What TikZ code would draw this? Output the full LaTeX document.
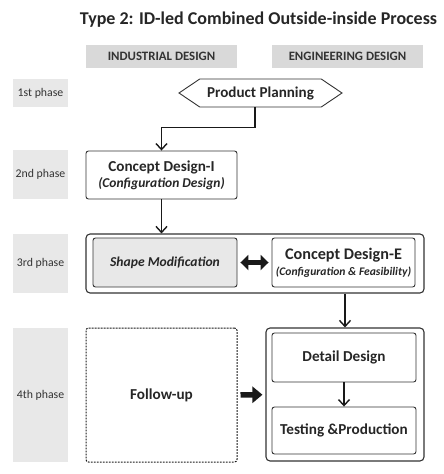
\documentclass[tikz,border=0pt]{standalone}
\usepackage{fontspec}
\setmainfont{Carlito}
\usetikzlibrary{arrows.meta,shapes.symbols}
\colorlet{header fill color}{black!15}
\colorlet{phase fill color}{black!9}
\colorlet{line color}{black!80}
\tikzset{
    x={1pt},
    y={-1pt},
    header/.style={
        fill=header fill color,
        font={\fontsize{12.8}{14}\selectfont\bfseries},
        text=black!80,
        minimum width={151},
        minimum height={23},
        inner sep=0pt,
    },
    phase label/.style={
        fill=phase fill color,
        font={\fontsize{11.8}{13}\selectfont},
        text=black!80,
        minimum width={55},
        minimum height={#1},
        inner sep=0pt,
    },
    step box/.style 2 args={
        draw=line color, rounded corners={2.5pt},
        line width={0.9pt},
        align=center,
        text=black!85,
        font={\fontsize{15.2}{17}\selectfont\bfseries},
        minimum width={#1},
        minimum height={#2},
        inner sep=0pt,
    },
    phase frame/.style 2 args={
        draw=line color, rounded corners={4pt},
        line width={1.1pt},
        minimum width={#1},
        minimum height={#2},
        inner sep=0pt,
    },
    flow/.style={
        draw=black!90,
        line width={1.4pt},
        -{Straight Barb[length=6pt,width=11pt,line width=1.4pt]},
    },
    fat flow/.style={
        draw=black!90,
        line width={5.5pt},
        shorten <=3pt, shorten >=3pt,
    },
}

\begin{document}
\begin{tikzpicture}
\useasboundingbox (0,0) rectangle (444,474);
% title and column headers
\node[font={\fontsize{18}{20}\selectfont\bfseries}, text=black!85] (title) at (258.5,20) {Type 2: ID-led Combined Outside-inside Process};
\node[header] (hdrID) at (161.5,56.5) {INDUSTRIAL DESIGN};
\node[header] (hdrED) at (347.5,56.5) {ENGINEERING DESIGN};
% phases
\node[phase label={28}] (phase1) at (40.5,93) {1st phase};
\node[phase label={49}] (phase2) at (40.5,174.5) {2nd phase};
\node[phase label={59}] (phase3) at (40.5,263.5) {3rd phase};
\node[phase label={134}] (phase4) at (40.5,395) {4th phase};
% frames
\node[phase frame={338}{59}] (frame3) at (255,263.5) {};
\node[phase frame={158}{133}] (frame4) at (345,394.5) {};
% steps
\node[draw=line color, line width={0.9pt}, signal, signal to=west and east, signal pointer angle=68,
    minimum width={163}, minimum height={28}, inner sep=0pt, text=black!85,
    font={\fontsize{15.1}{17}\selectfont\bfseries}] (planning) at (260.5,93) {Product Planning};
\node[step box={151}{48}] (conceptI) at (161.5,175) {Concept Design-I\\[-1pt]{\fontsize{13.5}{15}\selectfont\itshape(Configuration Design)}};
\node[step box={144}{49}, fill=phase fill color, font={\fontsize{13.6}{15}\selectfont\bfseries\itshape}] (shapemod) at (165,262.5) {Shape Modification};
\node[step box={143}{49}] (conceptE) at (343.5,262.5) {{\fontsize{16.2}{18}\selectfont Concept Design-E}\\[-1pt]{\fontsize{11.6}{13}\selectfont\itshape(Configuration \& Feasibility)}};
\node[step box={144}{49}] (detail) at (344,357.5) {Detail Design};
\node[step box={144}{47}] (testing) at (344,430.5) {Testing \&Production};
\node[step box={151}{134}, draw=black!90, dash pattern=on 1.8pt off 1.2pt, line width={1pt}] (followup) at (161.5,395) {Follow-up};
% connectors
\draw[flow] ([xshift=-5.5]planning.south) -- ++(0,20) -| (conceptI.north);
\draw[flow] (conceptI.south) -- (frame3.north -| conceptI.south);
\draw[flow] (frame3.south -| frame4.north) -- (frame4.north);
\draw[flow] (detail.south) -- (testing.north);
\draw[fat flow, {Triangle[length=8pt,width=15pt]}-{Triangle[length=8pt,width=15pt]}] (shapemod) -- (conceptE);
\draw[fat flow, -{Triangle[length=10pt,width=16pt]}] (followup) -- (frame4);
\end{tikzpicture}
\end{document}
